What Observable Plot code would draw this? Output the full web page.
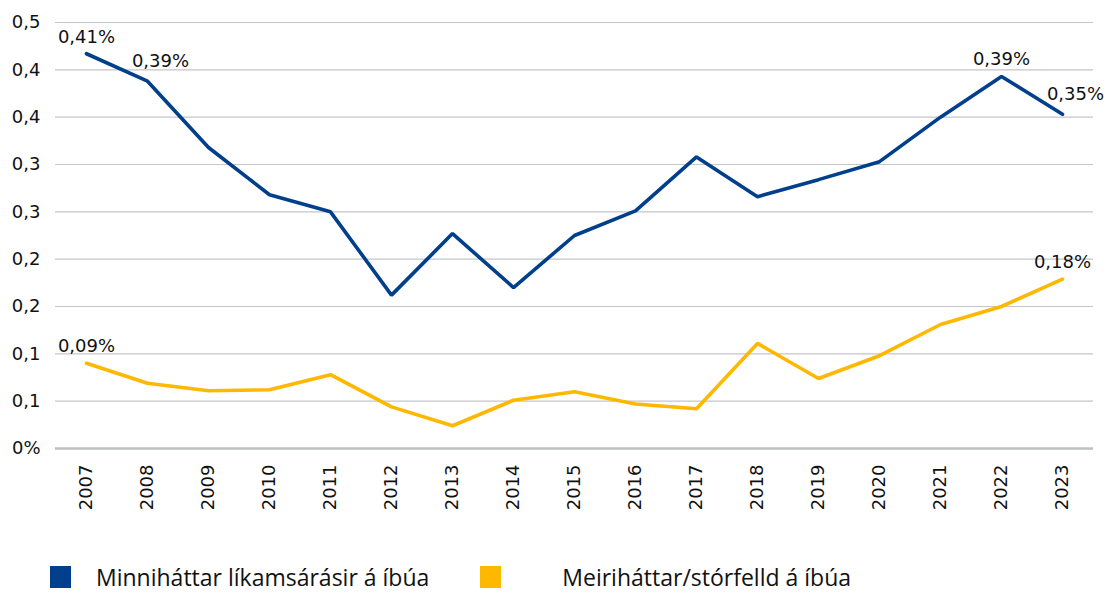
<!DOCTYPE html>
<html>
<head>
<meta charset="utf-8">
<script src="https://cdn.jsdelivr.net/npm/d3@7"></script>
<script src="https://cdn.jsdelivr.net/npm/@observablehq/plot@0.6"></script>
<style>
  html, body { margin: 0; padding: 0; background: #fff; }
  #chart { width: 1119px; }
  .legend { display: flex; align-items: center; padding-top: 41px; height: 22px; font-family: "Open Sans", sans-serif; font-size: 23px; color: #111; }
  .legend .sw { width: 21px; height: 22px; display: inline-block; }
  .legend .item { display: flex; align-items: center; }
</style>
</head>
<body>
<div id="chart"></div>
<script>
const years = ["2007","2008","2009","2010","2011","2012","2013","2014","2015","2016","2017","2018","2019","2020","2021","2022","2023"];
const minorValues = [0.417, 0.388, 0.318, 0.268, 0.250, 0.162, 0.227, 0.170, 0.225, 0.251, 0.308, 0.266, 0.284, 0.303, 0.350, 0.393, 0.353];
const majorValues = [0.090, 0.069, 0.061, 0.062, 0.078, 0.044, 0.024, 0.051, 0.060, 0.047, 0.042, 0.111, 0.074, 0.098, 0.131, 0.150, 0.179];
const seriesNames = ["Minniháttar líkamsárásir á íbúa", "Meiriháttar/stórfelld á íbúa"];
const seriesColors = ["#003F8C", "#FFB800"];
const yTickValues = [0, 0.05, 0.10, 0.15, 0.20, 0.25, 0.30, 0.35, 0.40, 0.45];
const yTickLabels = ["0%", "0,1", "0,1", "0,2", "0,2", "0,3", "0,3", "0,4", "0,4", "0,5"];
const labelYears = [["2007", "2008", "2022", "2023"], ["2007", "2023"]];
const labelTexts = [["0,41%", "0,39%", "0,39%", "0,35%"], ["0,09%", "0,18%"]];

const data = [];
years.forEach((y, i) => {
  data.push({year: y, value: minorValues[i], series: seriesNames[0]});
  data.push({year: y, value: majorValues[i], series: seriesNames[1]});
});
const labels = [];
[minorValues, majorValues].forEach((vals, s) => {
  labelYears[s].forEach((y, k) => {
    labels.push({year: y, value: vals[years.indexOf(y)], text: labelTexts[s][k], shifted: s === 0 && (y === "2008" || y === "2023")});
  });
});

const font = "DejaVu Sans, sans-serif";
const chart = Plot.plot({
  width: 1119,
  height: 525,
  marginTop: 22,
  marginBottom: 77,
  marginLeft: 55,
  marginRight: 26,
  style: {fontFamily: font, fontSize: "18px", color: "#111", background: "#fff"},
  x: {type: "point", domain: years, padding: 0.5},
  y: {domain: [0, 0.45]},
  color: {domain: seriesNames, range: seriesColors},
  marks: [
    Plot.ruleY(yTickValues.filter(d => d > 0), {stroke: "#c3c6ca", strokeWidth: 1.2}),
    Plot.ruleY([0], {stroke: "#bcbfc3", strokeWidth: 2.5}),
    Plot.axisY({ticks: yTickValues, tickSize: 0, tickPadding: 15, tickFormat: (d) => yTickLabels[yTickValues.indexOf(d)], label: null, fontSize: 18}),
    Plot.axisX({tickSize: 0, tickRotate: -90, tickPadding: 16, label: null, fontSize: 18}),
    Plot.line(data, {x: "year", y: "value", z: "series", stroke: "series", strokeWidth: 3.6, strokeLinejoin: "miter"}),
    Plot.text(labels.filter(d => !d.shifted), {x: "year", y: "value", text: "text", dy: -17, fill: "#111", fontSize: 18}),
    Plot.text(labels.filter(d => d.shifted), {x: "year", y: "value", text: "text", dy: -20, dx: 13, fill: "#111", fontSize: 18})
  ]
});
document.getElementById("chart").appendChild(chart);

const legend = document.createElement("div");
legend.className = "legend";
seriesNames.forEach((name, i) => {
  const item = document.createElement("span");
  item.className = "item";
  item.style.marginLeft = i === 0 ? "50px" : "51px";
  const sw = document.createElement("span");
  sw.className = "sw";
  sw.style.background = seriesColors[i];
  const t = document.createElement("span");
  t.textContent = name;
  t.style.marginLeft = i === 0 ? "25px" : "61px";
  item.appendChild(sw);
  item.appendChild(t);
  legend.appendChild(item);
});
document.getElementById("chart").appendChild(legend);
</script>
</body>
</html>
